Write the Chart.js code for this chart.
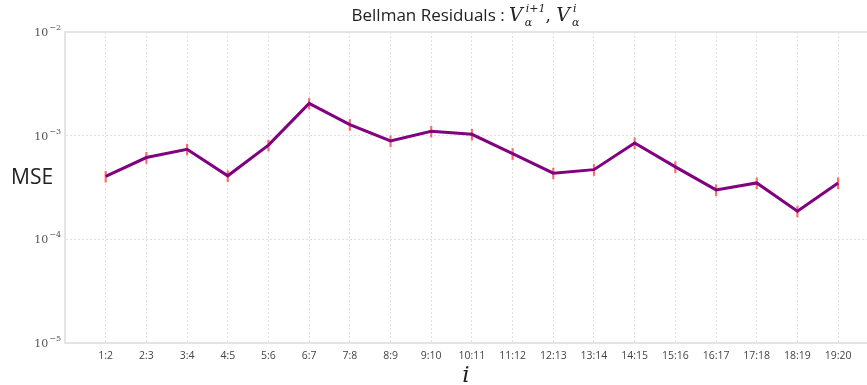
<!DOCTYPE html>
<html>
<head>
<meta charset="utf-8">
<script src="https://cdn.jsdelivr.net/npm/chart.js@4/dist/chart.umd.min.js"></script>
<style>
  html, body { margin: 0; padding: 0; background: #fff; }
  #wrap { width: 867px; height: 385px; position: relative; }
</style>
</head>
<body>
<div id="wrap"><canvas id="grafica"></canvas></div>
<script>
// pares de iteraciones (i : i+1)
const pares = ["1:2", "2:3", "3:4", "4:5", "5:6", "6:7", "7:8", "8:9", "9:10", "10:11",
  "11:12", "12:13", "13:14", "14:15", "15:16", "16:17", "17:18", "18:19", "19:20"];

// MSE medio de los residuos de Bellman
const mse = [4.05e-4, 6.15e-4, 7.4e-4, 4.1e-4, 8.1e-4, 2.05e-3, 1.28e-3, 8.9e-4, 1.10e-3, 1.03e-3,
  6.7e-4, 4.35e-4, 4.7e-4, 8.5e-4, 5.0e-4, 3.0e-4, 3.5e-4, 1.87e-4, 3.5e-4];

// desviación de cada punto (barras de error)
const errores = [5.2e-5, 8.0e-5, 9.5e-5, 5.3e-5, 1.05e-4, 2.6e-4, 1.65e-4, 1.15e-4, 1.4e-4, 1.3e-4,
  8.7e-5, 5.6e-5, 6.1e-5, 1.1e-4, 6.5e-5, 3.9e-5, 4.5e-5, 2.4e-5, 4.5e-5];

// exponentes de las marcas del eje y
const exponentes = [-5, -4, -3, -2];

const puntos = mse.map((v, i) => ({ x: i + 1, y: v }));

//* plugin: barras de error, marco superior, etiquetas del eje y, título y "MSE"
const extras = {
  id: "extras",
  beforeDatasetsDraw(chart) {
    const { ctx, scales } = chart;
    const xs = scales.x, ys = scales.y;
    ctx.save();
    ctx.strokeStyle = "rgba(255, 20, 20, 0.6)";
    ctx.lineWidth = 2.2;
    mse.forEach((v, i) => {
      const px = xs.getPixelForValue(i + 1);
      ctx.beginPath();
      ctx.moveTo(px, ys.getPixelForValue(v + errores[i]));
      ctx.lineTo(px, ys.getPixelForValue(v - errores[i]));
      ctx.stroke();
    });
    ctx.restore();
  },
  afterDraw(chart) {
    const { ctx, chartArea, scales } = chart;
    const ys = scales.y;
    ctx.save();

    // línea superior del marco
    ctx.strokeStyle = "#e4e4e4";
    ctx.lineWidth = 2;
    ctx.beginPath();
    ctx.moveTo(chartArea.left - 1, chartArea.top);
    ctx.lineTo(chart.width, chartArea.top);
    ctx.stroke();

    // etiquetas 10^n
    ctx.fillStyle = "#555";
    ctx.textBaseline = "alphabetic";
    for (const e of exponentes) {
      const py = ys.getPixelForValue(Math.pow(10, e));
      ctx.font = "8px 'DejaVu Serif'";
      const sup = "\u2212" + Math.abs(e);
      const wSup = ctx.measureText(sup).width;
      ctx.font = "11px 'DejaVu Serif'";
      const wBase = ctx.measureText("10").width;
      const x0 = chartArea.left - 5 - wSup - wBase;
      ctx.fillText("10", x0, py + 4);
      ctx.font = "8px 'DejaVu Serif'";
      ctx.fillText(sup, x0 + wBase + 1, py - 2);
    }

    // etiqueta MSE
    ctx.fillStyle = "#222";
    ctx.font = "21px 'Open Sans'";
    ctx.textAlign = "left";
    ctx.fillText("MSE", 11, 184);

    // título con notación matemática (gap = separación tras la V cursiva)
    const partes = [
      { t: "Bellman Residuals : ", f: "17px 'Open Sans'", dy: 0 },
      { t: "V", f: "italic 19px 'DejaVu Serif'", dy: 0 },
      { t: "i+1", f: "italic 11px 'DejaVu Serif'", dy: -9, sub: "\u03b1", gap: 3 },
      { t: ", ", f: "17px 'DejaVu Serif'", dy: 0 },
      { t: "V", f: "italic 19px 'DejaVu Serif'", dy: 0 },
      { t: "i", f: "italic 11px 'DejaVu Serif'", dy: -9, sub: "\u03b1", gap: 3 }
    ];
    let total = 0;
    for (const p of partes) {
      ctx.font = p.f;
      p.w = ctx.measureText(p.t).width;
      if (p.sub) p.w = Math.max(p.w, ctx.measureText(p.sub).width);
      total += p.w + (p.gap || 0);
    }
    let x = (chartArea.left + chart.width) / 2 - total / 2;
    const base = 21;
    for (const p of partes) {
      ctx.font = p.f;
      const g = p.gap || 0;
      ctx.fillText(p.t, x + g, base + p.dy);
      if (p.sub) ctx.fillText(p.sub, x + g - 1, base + 5);
      x += p.w + g;
    }
    ctx.restore();
  }
};

const config = {
  type: "line",
  data: {
    datasets: [{
      data: puntos,
      borderColor: "#800080",
      borderWidth: 3,
      pointRadius: 0,
      tension: 0
    }]
  },
  options: {
    responsive: true,
    maintainAspectRatio: false,
    animation: false,
    layout: { padding: { top: 32, right: 0, left: 0, bottom: 0 } },
    plugins: { legend: { display: false }, tooltip: { enabled: false } },
    scales: {
      x: {
        type: "linear",
        min: 0,
        max: 19.71,
        afterBuildTicks(scale) {
          scale.ticks = pares.map((_, i) => ({ value: i + 1 }));
        },
        afterFit(scale) { scale.height = 42; },
        ticks: {
          autoSkip: false,
          maxRotation: 0,
          padding: 7,
          color: "#444",
          font: { family: "'Open Sans'", size: 10.5 },
          callback: (v) => pares[v - 1] || ""
        },
        grid: { color: "#e0e0e0", drawTicks: false, tickLength: 0 },
        border: { color: "#e4e4e4", width: 2, dash: [2, 2] },
        title: {
          display: true,
          text: "i",
          color: "#222",
          font: { family: "'DejaVu Serif'", style: "italic", size: 23 },
          padding: { top: 0, bottom: -5 }
        }
      },
      y: {
        type: "logarithmic",
        min: 1e-5,
        max: 1e-2,
        afterBuildTicks(scale) {
          scale.ticks = exponentes.map((e) => ({ value: Math.pow(10, e) }));
        },
        afterFit(scale) { scale.width = 65; },
        ticks: { display: false },
        grid: { color: "#e0e0e0", drawTicks: false, tickLength: 0 },
        border: { color: "#e4e4e4", width: 2, dash: [2, 2] }
      }
    }
  },
  plugins: [extras]
};

new Chart(document.getElementById("grafica"), config);
</script>
</body>
</html>
